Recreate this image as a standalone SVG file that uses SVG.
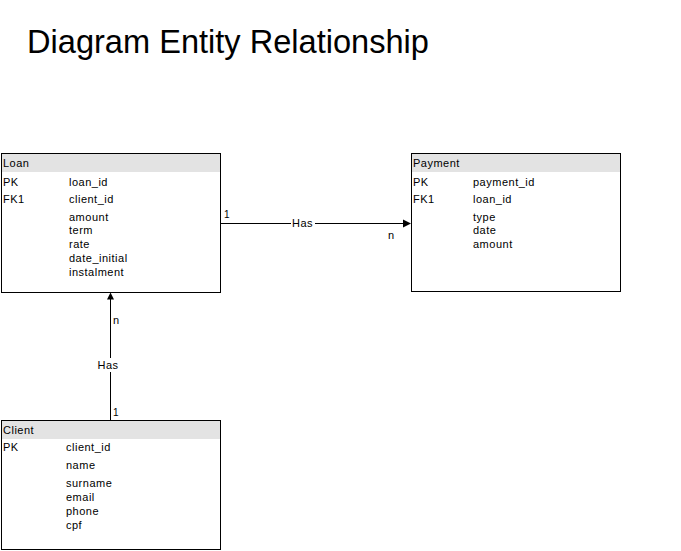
<svg xmlns="http://www.w3.org/2000/svg" width="681" height="551" viewBox="0 0 681 551">
<style>
.t{font-family:"Liberation Sans",Arial,Helvetica,sans-serif;font-size:11px;letter-spacing:0.5px;fill:#000}
.title{font-family:"Liberation Sans",Arial,Helvetica,sans-serif;font-size:32.6px;fill:#000}
.box{fill:#fff;stroke:#000;stroke-width:1}
.hdr{fill:#e3e3e3;stroke:none}
.ln{stroke:#000;stroke-width:1;fill:none}
.ah{fill:#000;stroke:none}
</style>
<rect x="0" y="0" width="681" height="551" fill="#fff"/>
<text class="title" x="27" y="53">Diagram Entity Relationship</text>
<g id="loan">
<rect class="box" x="1.5" y="153.5" width="219" height="139"/>
<rect class="hdr" x="2" y="154" width="218" height="18"/>
<text class="t" x="3" y="167">Loan</text>
<text class="t" x="3" y="186">PK</text>
<text class="t" x="69" y="186">loan_id</text>
<text class="t" x="3" y="203">FK1</text>
<text class="t" x="69" y="203">client_id</text>
<text class="t" x="69" y="221">amount</text>
<text class="t" x="69" y="234">term</text>
<text class="t" x="69" y="248">rate</text>
<text class="t" x="69" y="262">date_initial</text>
<text class="t" x="69" y="276">instalment</text>
</g>
<g id="payment">
<rect class="box" x="411.5" y="153.5" width="209" height="138"/>
<rect class="hdr" x="412" y="154" width="208" height="18"/>
<text class="t" x="413" y="167">Payment</text>
<text class="t" x="413" y="186">PK</text>
<text class="t" x="473" y="186">payment_id</text>
<text class="t" x="413" y="203">FK1</text>
<text class="t" x="473" y="203">loan_id</text>
<text class="t" x="473" y="221">type</text>
<text class="t" x="473" y="234">date</text>
<text class="t" x="473" y="248">amount</text>
</g>
<g id="client">
<rect class="box" x="1.5" y="420.5" width="219" height="129"/>
<rect class="hdr" x="2" y="421" width="218" height="18"/>
<text class="t" x="3" y="434">Client</text>
<text class="t" x="3" y="451">PK</text>
<text class="t" x="66" y="451">client_id</text>
<text class="t" x="66" y="469">name</text>
<text class="t" x="66" y="487">surname</text>
<text class="t" x="66" y="501">email</text>
<text class="t" x="66" y="515">phone</text>
<text class="t" x="66" y="529">cpf</text>
</g>
<g id="connectors">
<line class="ln" x1="220" y1="223.5" x2="291" y2="223.5"/>
<line class="ln" x1="315" y1="223.5" x2="404" y2="223.5"/>
<polygon class="ah" points="411,223.5 403,219.5 403,227.5"/>
<text class="t" x="224" y="218" style="font-size:10px">1</text>
<text class="t" x="292" y="227">Has</text>
<text class="t" x="388" y="239">n</text>
<line class="ln" x1="110.5" y1="420" x2="110.5" y2="372"/>
<line class="ln" x1="110.5" y1="358" x2="110.5" y2="299"/>
<polygon class="ah" points="110.5,292.5 107,299.5 114,299.5"/>
<text class="t" x="113" y="324">n</text>
<text class="t" x="108" y="369" text-anchor="middle">Has</text>
<text class="t" x="113" y="416" style="font-size:10px">1</text>
</g>
</svg>
